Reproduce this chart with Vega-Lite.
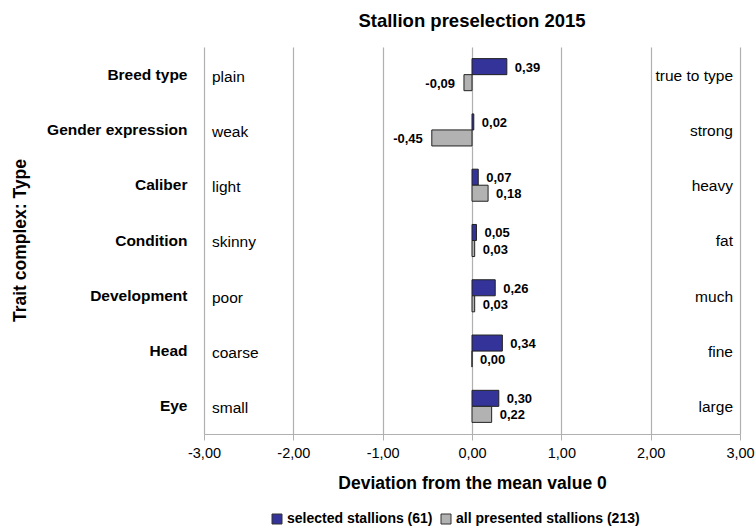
{
  "$schema": "https://vega.github.io/schema/vega-lite/v6.json",
  "autosize": {"type": "none"},
  "width": 536,
  "height": 387,
  "padding": {"left": 204, "top": 47, "right": 16, "bottom": 98},
  "background": "white",
  "config": {
    "locale": {"number": {"decimal": ",", "thousands": ".", "grouping": [3], "currency": ["", " €"], "minus": "-"}},
    "font": "Liberation Sans",
    "view": {"stroke": null}
  },
  "title": {
    "text": "Stallion preselection 2015",
    "fontSize": 18.5,
    "fontWeight": "bold",
    "font": "Liberation Sans",
    "color": "#000000",
    "frame": "group",
    "anchor": "middle",
    "dx": 0,
    "offset": 17
  },
  "data": {
    "values": [
      {"trait": "Breed type", "group": "selected stallions (61)", "value": 0.39, "low": "plain", "high": "true to type"},
      {"trait": "Breed type", "group": "all presented stallions (213)", "value": -0.09, "low": "plain", "high": "true to type"},
      {"trait": "Gender expression", "group": "selected stallions (61)", "value": 0.02, "low": "weak", "high": "strong"},
      {"trait": "Gender expression", "group": "all presented stallions (213)", "value": -0.45, "low": "weak", "high": "strong"},
      {"trait": "Caliber", "group": "selected stallions (61)", "value": 0.07, "low": "light", "high": "heavy"},
      {"trait": "Caliber", "group": "all presented stallions (213)", "value": 0.18, "low": "light", "high": "heavy"},
      {"trait": "Condition", "group": "selected stallions (61)", "value": 0.05, "low": "skinny", "high": "fat"},
      {"trait": "Condition", "group": "all presented stallions (213)", "value": 0.03, "low": "skinny", "high": "fat"},
      {"trait": "Development", "group": "selected stallions (61)", "value": 0.26, "low": "poor", "high": "much"},
      {"trait": "Development", "group": "all presented stallions (213)", "value": 0.03, "low": "poor", "high": "much"},
      {"trait": "Head", "group": "selected stallions (61)", "value": 0.34, "low": "coarse", "high": "fine"},
      {"trait": "Head", "group": "all presented stallions (213)", "value": 0.00, "low": "coarse", "high": "fine"},
      {"trait": "Eye", "group": "selected stallions (61)", "value": 0.30, "low": "small", "high": "large"},
      {"trait": "Eye", "group": "all presented stallions (213)", "value": 0.22, "low": "small", "high": "large"}
    ]
  },
  "encoding": {
    "y": {
      "field": "trait",
      "type": "nominal",
      "sort": ["Breed type", "Gender expression", "Caliber", "Condition", "Development", "Head", "Eye"],
      "scale": {"paddingInner": 0.42, "paddingOuter": 0.21},
      "axis": {
        "title": "Trait complex: Type",
        "titleFontSize": 17.5,
        "titleFontWeight": "bold",
        "titleColor": "#000000",
        "titleX": -184,
        "titleY": 193,
        "titleAngle": -90,
        "titleBaseline": "middle",
        "labelFontSize": 15.5,
        "labelFontWeight": "bold",
        "labelColor": "#000000",
        "labelPadding": 17,
        "labelLimit": 300,
        "ticks": false,
        "domain": false,
        "grid": false
      }
    },
    "yOffset": {
      "field": "group",
      "type": "nominal",
      "sort": ["selected stallions (61)", "all presented stallions (213)"],
      "scale": {"paddingInner": 0, "paddingOuter": 0}
    }
  },
  "layer": [
    {
      "mark": {"type": "bar", "stroke": "#222222", "strokeWidth": 1},
      "encoding": {
        "x": {
          "field": "value",
          "type": "quantitative",
          "scale": {"domain": [-3, 3], "nice": false, "zero": false},
          "axis": {
            "title": "Deviation from the mean value 0",
            "titleFontSize": 17.5,
            "titleFontWeight": "bold",
            "titleColor": "#000000",
            "titlePadding": 15,
            "values": [-3, -2, -1, 0, 1, 2, 3],
            "format": ".2f",
            "labelFontSize": 14.5,
            "labelColor": "#000000",
            "labelPadding": 6,
            "grid": true,
            "gridColor": "#b0b0b0",
            "gridWidth": 1.2,
            "domainColor": "#b0b0b0",
            "domainWidth": 1.2,
            "tickColor": "#b0b0b0",
            "tickSize": 6,
            "labelFlush": false
          }
        },
        "color": {
          "field": "group",
          "type": "nominal",
          "sort": ["selected stallions (61)", "all presented stallions (213)"],
          "scale": {"range": ["#333399", "#b2b2b2"]},
          "legend": {
            "title": null,
            "orient": "none",
            "direction": "horizontal",
            "legendX": 66,
            "legendY": 465,
            "symbolType": "square",
            "symbolSize": 100,
            "symbolStrokeColor": "#333333",
            "symbolStrokeWidth": 1,
            "labelFontSize": 14,
            "labelFontWeight": "bold",
            "labelColor": "#000000",
            "labelOffset": 3,
            "labelLimit": 400,
            "columnPadding": 6
          }
        }
      }
    },
    {
      "transform": [{"filter": "datum.value >= 0"}],
      "mark": {"type": "text", "align": "left", "baseline": "middle", "dx": 8, "dy": 1, "fontSize": 13, "fontWeight": "bold", "color": "#000000"},
      "encoding": {
        "x": {"field": "value", "type": "quantitative"},
        "text": {"field": "value", "type": "quantitative", "format": ".2f"}
      }
    },
    {
      "transform": [{"filter": "datum.value < 0"}],
      "mark": {"type": "text", "align": "right", "baseline": "middle", "dx": -9, "dy": 1, "fontSize": 13, "fontWeight": "bold", "color": "#000000"},
      "encoding": {
        "x": {"field": "value", "type": "quantitative"},
        "text": {"field": "value", "type": "quantitative", "format": ".2f"}
      }
    },
    {
      "transform": [{"filter": "datum.group === 'selected stallions (61)'"}],
      "mark": {"type": "text", "align": "left", "baseline": "middle", "dx": 8, "fontSize": 15.5, "color": "#000000"},
      "encoding": {
        "x": {"datum": -3, "type": "quantitative"},
        "y": {"field": "trait", "type": "nominal", "sort": ["Breed type", "Gender expression", "Caliber", "Condition", "Development", "Head", "Eye"]},
        "yOffset": {"value": 18},
        "text": {"field": "low"}
      }
    },
    {
      "transform": [{"filter": "datum.group === 'selected stallions (61)'"}],
      "mark": {"type": "text", "align": "right", "baseline": "middle", "dx": -7, "fontSize": 15.5, "color": "#000000"},
      "encoding": {
        "x": {"datum": 3, "type": "quantitative"},
        "y": {"field": "trait", "type": "nominal", "sort": ["Breed type", "Gender expression", "Caliber", "Condition", "Development", "Head", "Eye"]},
        "yOffset": {"value": 17},
        "text": {"field": "high"}
      }
    }
  ]
}
